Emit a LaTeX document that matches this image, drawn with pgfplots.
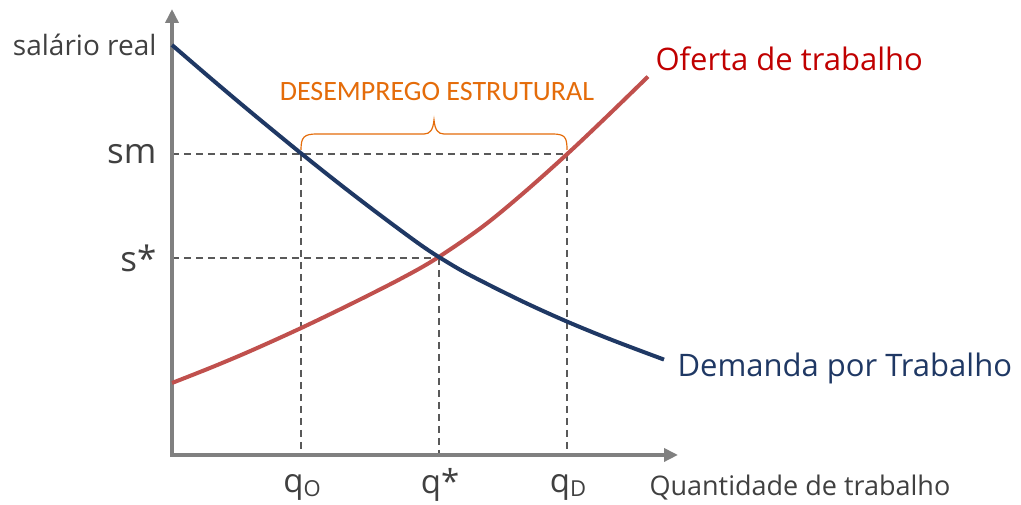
\documentclass[border=0pt]{standalone}
\usepackage{pgfplots}
\pgfplotsset{compat=1.18}
\usetikzlibrary{arrows.meta}
\usepackage{fontspec}
\setmainfont{Open Sans}
\newfontfamily\carlito{Carlito}
\definecolor{demand}{HTML}{1F3864}
\definecolor{supply}{HTML}{C0504D}
\definecolor{ofertatxt}{HTML}{C00000}
\definecolor{orng}{HTML}{E46C0A}
\definecolor{axgray}{HTML}{808080}
\definecolor{dashgray}{HTML}{595959}
\definecolor{txtgray}{HTML}{404040}
\begin{document}
\begin{tikzpicture}
\begin{axis}[
  hide axis, scale only axis,
  width=1021pt, height=503pt,
  xmin=-172, xmax=849, ymin=-48, ymax=455,
  clip=false,
]
\path (rel axis cs:0,0) rectangle (rel axis cs:1,1);
% dashed guides
\addplot[dashgray, line width=1.8pt, dash pattern=on 7pt off 5pt] coordinates {(0,301) (395,301)};
\addplot[dashgray, line width=1.8pt, dash pattern=on 7pt off 5pt] coordinates {(0,197) (267,197)};
\addplot[dashgray, line width=1.8pt, dash pattern=on 7pt off 5pt] coordinates {(129,301) (129,2)};
\addplot[dashgray, line width=1.8pt, dash pattern=on 7pt off 5pt] coordinates {(267,197) (267,2)};
\addplot[dashgray, line width=1.8pt, dash pattern=on 7pt off 5pt] coordinates {(395,301) (395,2)};
% axes
\addplot[axgray, line width=4pt, -{Triangle[length=14pt,width=13pt]}] coordinates {(0,0) (0,446)};
\addplot[axgray, line width=4pt, -{Triangle[length=14pt,width=13pt]}] coordinates {(-2,0) (506,0)};
% supply
\addplot[supply, line width=4pt, smooth, tension=0.55] coordinates {
(0,72) (40,87.8) (80,104.7) (129,126.9) (180,151.5) (230,176.9) (265,196.9)
(310,227.9) (350,260.7) (395,300.8) (435,338.6) (476,378.4)};
% demand
\addplot[demand, line width=4pt, smooth, tension=0.55] coordinates {
(0,410) (40,375.6) (80,341.9) (128,302.5) (170,269.1) (210,238.5) (250,209.1)
(275,193.0) (300,178.8) (350,153.8) (395,133.4) (440,115.0) (492,95.4)};
% brace
\draw[orng, line width=1.2pt] (axis cs:129,305) .. controls (axis cs:129,318) and (axis cs:132,321) .. (axis cs:145,321) -- (axis cs:252,321) .. controls (axis cs:258,321) and (axis cs:261,325) .. (axis cs:262,335) .. controls (axis cs:263,325) and (axis cs:266,321) .. (axis cs:272,321) -- (axis cs:380,321) .. controls (axis cs:393,321) and (axis cs:395,318) .. (axis cs:395,305);
% labels
\node[anchor=center, orng] at (axis cs:265,363) {\carlito\fontsize{28}{31}\selectfont DESEMPREGO ESTRUTURAL};
\node[anchor=east, txtgray] at (axis cs:-12,410) {\fontsize{28}{31}\selectfont salário real};
\node[anchor=east, txtgray] at (axis cs:-12,301) {\fontsize{35}{38}\selectfont sm};
\node[anchor=east, txtgray] at (axis cs:-12,197) {\fontsize{35}{38}\selectfont s*};
\node[anchor=center, txtgray] at (axis cs:130,-33) {\fontsize{33}{36}\selectfont q\raisebox{-4pt}{\fontsize{22}{24}\selectfont O}};
\node[anchor=center, txtgray] at (axis cs:268,-30) {\fontsize{33}{36}\selectfont q*};
\node[anchor=center, txtgray] at (axis cs:396,-33) {\fontsize{33}{36}\selectfont q\raisebox{-4pt}{\fontsize{22}{24}\selectfont D}};
\node[anchor=west, txtgray] at (axis cs:474,-33) {\fontsize{27}{30}\selectfont Quantidade de trabalho};
\node[anchor=west, ofertatxt] at (axis cs:480,396) {\fontsize{31}{34}\selectfont Oferta de trabalho};
\node[anchor=west, demand] at (axis cs:502,87) {\fontsize{31}{34}\selectfont Demanda por Trabalho};
\end{axis}
\end{tikzpicture}
\end{document}
